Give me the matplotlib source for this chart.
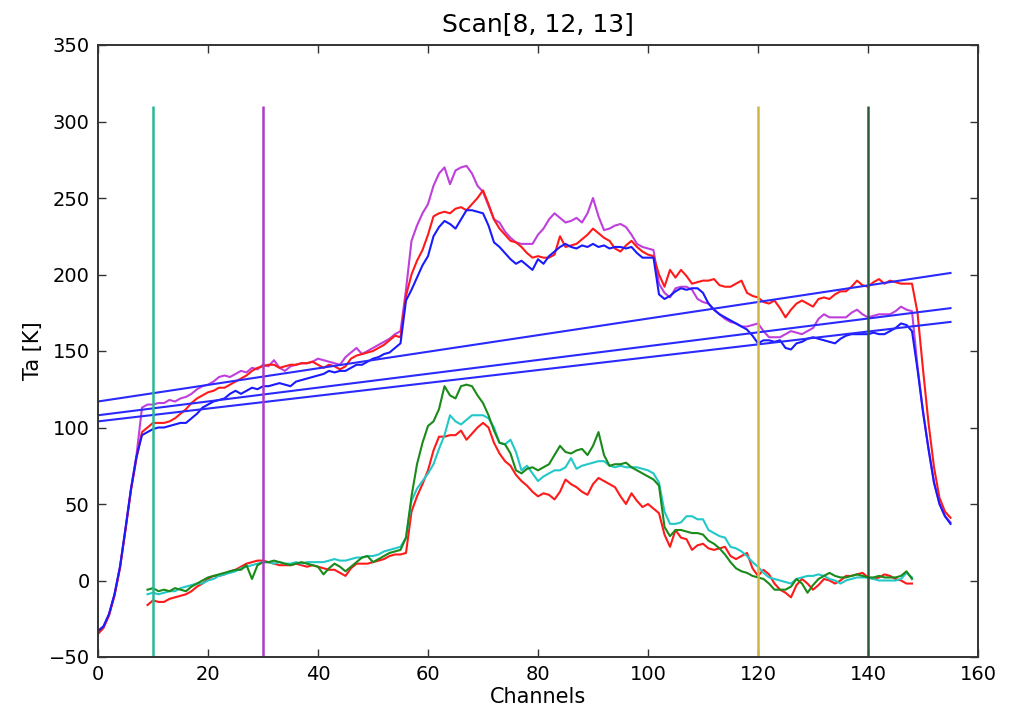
import numpy as np
import matplotlib
matplotlib.use("Agg")
import matplotlib.pyplot as plt

# Raw spectra (channels 0..155)
raw_blue = [
    -33, -30, -22, -9, 9, 34, 60, 81, 95, 97,
    99, 100, 100, 101, 102, 103, 103, 106, 109, 113,
    115, 117, 118, 119, 122, 124, 122, 124, 126, 125,
    127, 127, 128, 129, 128, 127, 130, 131, 132, 133,
    134, 135, 137, 136, 137, 137, 139, 141, 141, 143,
    145, 146, 148, 149, 152, 155, 183, 190, 198, 206,
    212, 225, 231, 235, 233, 230, 236, 242, 242, 241,
    240, 232, 221, 218, 214, 210, 207, 209, 206, 203,
    210, 207, 212, 215, 218, 220, 218, 217, 219, 218,
    220, 218, 219, 217, 218, 218, 217, 218, 214, 211,
    211, 211, 187, 184, 186, 189, 191, 190, 191, 191,
    188, 181, 177, 174, 172, 170, 168, 166, 164, 160,
    155, 157, 157, 156, 157, 152, 151, 155, 156, 158,
    159, 158, 157, 156, 155, 158, 160, 161, 161, 161,
    161, 162, 161, 161, 163, 165, 168, 167, 163, 138,
    110, 86, 64, 50, 42, 37,
]
raw_magenta = [
    -33, -30, -22, -9, 9, 34, 60, 82, 113, 115,
    115, 116, 116, 118, 117, 119, 120, 122, 125, 127,
    128, 130, 133, 134, 133, 135, 137, 136, 139, 138,
    141, 140, 144, 139, 137, 140, 141, 142, 142, 143,
    145, 144, 143, 142, 141, 146, 149, 152, 148, 150,
    152, 154, 156, 158, 161, 163, 190, 222, 232, 240,
    246, 258, 266, 270, 259, 268, 270, 271, 266, 258,
    254, 245, 236, 234, 228, 224, 221, 220, 220, 220,
    226, 230, 236, 240, 237, 234, 235, 237, 234, 240,
    250, 238, 229, 230, 232, 233, 231, 226, 220, 218,
    217, 216, 194, 188, 185, 191, 192, 192, 190, 184,
    182, 181, 177, 174, 171, 169, 168, 166, 166, 167,
    168, 163, 159, 159, 159, 161, 163, 162, 161, 163,
    165, 171, 174, 172, 172, 172, 172, 175, 177, 174,
    172, 173, 174, 174, 174, 176, 179, 177, 176, 140,
    111, 86, 64, 50, 42, 38,
]
raw_red = [
    -35, -31, -23, -10, 8, 33, 59, 80, 97, 100,
    103, 103, 103, 104, 106, 109, 112, 116, 119, 121,
    123, 124, 126, 126, 128, 130, 132, 134, 137, 139,
    140, 141, 141, 139, 140, 141, 141, 142, 142, 143,
    141, 139, 141, 140, 138, 140, 145, 147, 148, 149,
    150, 152, 154, 157, 160, 159, 186, 200, 209, 216,
    226, 238, 240, 241, 240, 243, 244, 242, 246, 250,
    255, 246, 236, 230, 226, 222, 221, 218, 214, 211,
    212, 211, 211, 213, 225, 218, 219, 220, 223, 226,
    230, 227, 224, 222, 217, 215, 219, 222, 218, 215,
    213, 212, 200, 192, 203, 198, 203, 199, 194, 195,
    196, 196, 197, 193, 192, 192, 194, 196, 188, 186,
    185, 182, 181, 183, 178, 172, 177, 181, 183, 181,
    179, 184, 185, 184, 187, 189, 189, 192, 196, 193,
    192, 195, 197, 194, 196, 195, 194, 194, 194, 175,
    138, 103, 74, 54, 45, 41,
]

# Baseline-subtracted spectra (channels 9..148)
sub_green = [
    -6,
    -5, -7, -6, -7, -5, -6, -7, -4, -2, 0,
    2, 3, 4, 5, 6, 7, 7, 10, 1, 10,
    12, 12, 13, 12, 11, 10, 11, 12, 11, 10,
    9, 4, 8, 11, 9, 6, 9, 12, 15, 16,
    12, 14, 16, 18, 19, 20, 28, 55, 76, 90,
    101, 104, 112, 127, 121, 119, 127, 128, 127, 121,
    116, 108, 98, 90, 89, 83, 72, 70, 73, 74,
    72, 74, 76, 82, 88, 84, 83, 85, 86, 82,
    88, 97, 82, 75, 76, 76, 77, 74, 72, 70,
    68, 66, 62, 35, 29, 33, 33, 32, 31, 31,
    30, 26, 24, 21, 17, 12, 8, 6, 5, 3,
    2, 1, -2, -6, -6, -6, -4, 1, -2, -8,
    -3, 1, 3, 5, 3, 2, 2, 3, 4, 3,
    2, 2, 3, 2, 2, 2, 3, 6, 1,
]
sub_cyan = [
    -9,
    -8, -9, -8, -7, -7, -5, -4, -3, -2, -2,
    0, 1, 3, 4, 5, 6, 8, 9, 10, 11,
    12, 12, 11, 12, 11, 11, 12, 11, 12, 12,
    12, 12, 13, 14, 13, 13, 14, 15, 15, 16,
    16, 17, 19, 20, 21, 22, 28, 52, 60, 65,
    70, 76, 86, 95, 108, 104, 102, 105, 108, 108,
    108, 106, 100, 90, 89, 92, 84, 72, 75, 70,
    65, 68, 70, 72, 72, 74, 80, 73, 75, 76,
    77, 78, 78, 75, 74, 75, 74, 74, 74, 73,
    72, 70, 64, 45, 37, 37, 38, 42, 42, 40,
    40, 33, 31, 29, 28, 22, 21, 19, 16, 12,
    9, 5, 2, 1, 0, -1, -2, 1, 2, 3,
    3, 4, 3, 1, 0, -2, 0, 1, 2, 2,
    2, 1, 0, 0, 0, 0, 1, 5, 2,
]
sub_red = [
    -16,
    -13, -14, -14, -12, -11, -10, -9, -7, -4, -2,
    1, 3, 3, 4, 6, 7, 9, 11, 12, 13,
    13, 12, 11, 10, 10, 10, 11, 10, 9, 10,
    9, 8, 7, 7, 5, 3, 8, 11, 11, 11,
    12, 13, 14, 16, 17, 17, 18, 45, 55, 63,
    72, 85, 94, 94, 95, 95, 98, 92, 96, 100,
    103, 100, 90, 83, 78, 75, 69, 65, 62, 58,
    55, 57, 56, 53, 58, 66, 63, 61, 58, 56,
    63, 67, 65, 63, 61, 55, 50, 57, 52, 48,
    50, 47, 44, 30, 22, 33, 28, 27, 20, 23,
    24, 21, 20, 21, 22, 16, 14, 16, 18, 8,
    3, 7, 4, -2, -6, -8, -11, -3, 1, -2,
    -6, -3, 1, 0, -2, 0, 3, 3, 4, 5,
    2, 1, 2, 4, 3, 1, 0, -2, -2,
]

# Baseline fits: value at the first and last channel
fit_channels = [0, 155]
fit_start = [117, 108, 104]
fit_end = [201, 178, 169]

# Baseline window markers
marker_channels = [10, 30, 120, 140]
marker_colors = ["#2bb896", "#aa3cc6", "#cdb845", "#2e5a3c"]
marker_top = 310

raw_ch = np.arange(len(raw_blue))
sub_ch = np.arange(9, 9 + len(sub_green))

plt.rcParams["font.family"] = ["DejaVu Sans"]

fig = plt.figure(figsize=(10.10, 7.11), dpi=100)
ax = fig.add_axes([98 / 1010, 54 / 711, 880 / 1010, 612 / 711])

lw = 1.5
ax.plot(raw_ch, raw_magenta, color="#bf3fdc", lw=lw)
ax.plot(raw_ch, raw_red, color="#ff1a1a", lw=lw)
ax.plot(raw_ch, raw_blue, color="#1a1aff", lw=lw)

for s, e in zip(fit_start, fit_end):
    ax.plot(fit_channels, [s, e], color="#2a2aff", lw=lw)

ax.plot(sub_ch, sub_red, color="#ff1a1a", lw=lw)
ax.plot(sub_ch, sub_cyan, color="#22c8c8", lw=lw)
ax.plot(sub_ch, sub_green, color="#1a8a1a", lw=lw)

for xc, col in zip(marker_channels, marker_colors):
    ax.vlines(xc, -50, marker_top, color=col, lw=1.8)

ax.set_xlim(0, 160)
ax.set_ylim(-50, 350)
ax.set_xticks(np.arange(0, 161, 20))
ax.set_yticks(np.arange(-50, 351, 50))
ax.tick_params(direction="in", top=True, right=True, length=6, width=1,
               labelsize=14, pad=6, color="#333333")
for sp in ax.spines.values():
    sp.set_linewidth(1.4)
    sp.set_color("#333333")

ax.set_title("Scan[8, 12, 13]", fontsize=18, pad=10)
ax.set_xlabel("Channels", fontsize=15, labelpad=2)
ax.set_ylabel("Ta [K]", fontsize=15, labelpad=4)

fig.savefig("out.png", dpi=100)
